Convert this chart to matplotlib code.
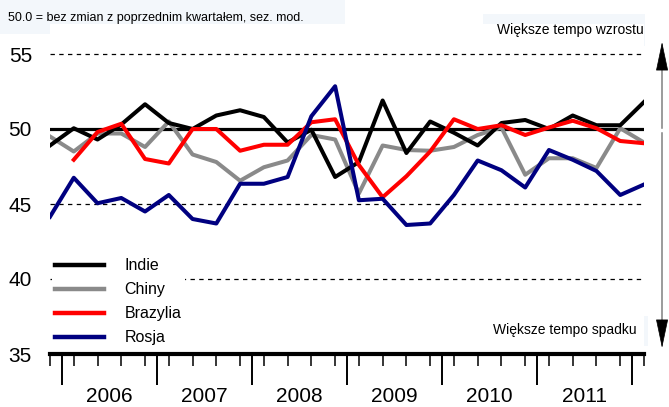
import numpy as np
import matplotlib.pyplot as plt
from matplotlib.lines import Line2D
from matplotlib.patches import Rectangle

plt.rcParams['font.family'] = ['Liberation Sans', 'DejaVu Sans']

# kwartaly: 2005 Q4 ... 2012 Q1
lata = ['2006', '2007', '2008', '2009', '2010', '2011']
kwartaly = np.arange(26)

indie = [48.9, 50.05, 49.3, 50.3, 51.65, 50.4, 50.0, 50.9, 51.25, 50.8, 49.1, 49.95,
         46.8, 47.8, 51.9, 48.4, 50.5, 49.75, 48.9, 50.4, 50.6, 50.0, 50.9, 50.25,
         50.25, 51.8]
chiny = [49.5, 48.5, 49.7, 49.7, 48.8, 50.5, 48.3, 47.8, 46.55, 47.45, 47.9, 49.6,
         49.3, 45.7, 48.9, 48.6, 48.55, 48.8, 49.6, 50.1, 46.95, 48.05, 48.05, 47.4,
         50.05, 49.1]
brazylia = [47.95, 49.8, 50.35, 48.0, 47.7, 50.0, 50.0, 48.55, 48.95, 48.95, 50.45,
            50.65, 47.6, 45.45, 46.85, 48.5, 50.65, 50.0, 50.25, 49.6, 50.1, 50.55,
            50.05, 49.2, 49.05]  # od 2006 Q1
rosja = [44.15, 46.75, 45.05, 45.4, 44.5, 45.6, 44.0, 43.7, 46.35, 46.35, 46.8, 50.85,
         52.85, 45.25, 45.35, 43.6, 43.7, 45.6, 47.9, 47.25, 46.1, 48.6, 47.95, 47.2,
         45.6, 46.3]

W, H = 669, 407
fig = plt.figure(figsize=(W / 100, H / 100), dpi=100)
ax = fig.add_axes([50 / W, 53 / H, 594 / W, 330 / H])
ax.set_xlim(0, 25)
ax.set_ylim(35, 57)

# jasne tla pod opisami
for x0, y0, w, h in [(0, 0, 345, 34), (483, 14, 162, 32), (483, 316, 165, 30)]:
    fig.add_artist(Rectangle((x0 / W, 1 - (y0 + h) / H), w / W, h / H,
                             transform=fig.transFigure, facecolor='#f3f7fb',
                             edgecolor='none', zorder=0))

for lvl in [55, 45, 40]:
    ax.plot([0, 25], [lvl, lvl], color='black', lw=0.9, ls=(0, (3.5, 3.5)), zorder=1)
ax.plot([0, 25], [50, 50], color='black', lw=2.3, zorder=1)

ax.plot(kwartaly, indie, color='black', lw=2.9, zorder=3)
ax.plot(kwartaly, chiny, color='#8a8a8a', lw=2.9, zorder=2)
ax.plot(kwartaly[1:], brazylia, color='#ff0000', lw=2.9, zorder=4)
ax.plot(kwartaly, rosja, color='#000080', lw=2.9, zorder=5)

# os X: krotkie kreski w kwartalach, dlugie na granicach lat
ax.set_xticks(np.arange(0.5, 25, 4))
ax.set_xticks(kwartaly, minor=True)
ax.tick_params(axis='x', which='major', length=22, width=1.4, labelbottom=False)
ax.tick_params(axis='x', which='minor', length=8.5, width=1.1)
for i, rok in enumerate(lata):
    ax.text(2.5 + 4 * i, -0.13, rok, transform=ax.get_xaxis_transform(),
            ha='center', va='center', fontsize=15)

ax.set_yticks([35, 40, 45, 50, 55])
ax.tick_params(axis='y', length=0, pad=13, labelsize=15)
for s in ['left', 'right', 'top']:
    ax.spines[s].set_visible(False)
ax.spines['bottom'].set_linewidth(3)

# legenda
uchwyty = [Line2D([], [], color=c, lw=3.2) for c in ['black', '#8a8a8a', '#ff0000', '#000080']]
leg = ax.legend(uchwyty, ['Indie', 'Chiny', 'Brazylia', 'Rosja'],
                loc='upper left', bbox_to_anchor=(44 / W, 1 - 247 / H),
                bbox_transform=fig.transFigure, frameon=True, fancybox=False,
                edgecolor='none', facecolor='white', framealpha=1,
                fontsize=11.5, handlelength=3.05, handletextpad=1.3,
                labelspacing=0.57, borderpad=0.2)
leg.set_zorder(6)

# strzalki po prawej
xs = 25.76
ax.plot([xs, xs], [50.07, 54.5], color='#808080', lw=1.1, clip_on=False)
ax.plot([xs, xs], [49.73, 36.5], color='#808080', lw=1.1, clip_on=False)
for tip, start in [(55.8, 54.0), (35.4, 37.2)]:
    ax.annotate('', xy=(xs, tip), xytext=(xs, start), annotation_clip=False,
                arrowprops=dict(arrowstyle='-|>,head_length=1.9,head_width=0.4',
                                mutation_scale=10, color='black', lw=0.5,
                                shrinkA=0, shrinkB=0))

fig.text(8 / W, 1 - 18 / H, '50.0 = bez zmian z poprzednim kwartałem, sez. mod.',
         ha='left', va='center', fontsize=9.0)
fig.text(497 / W, 1 - 30 / H, 'Większe tempo wzrostu', ha='left', va='center', fontsize=10)
fig.text(493 / W, 1 - 330 / H, 'Większe tempo spadku', ha='left', va='center', fontsize=10)

fig.savefig('out.png', dpi=100)
